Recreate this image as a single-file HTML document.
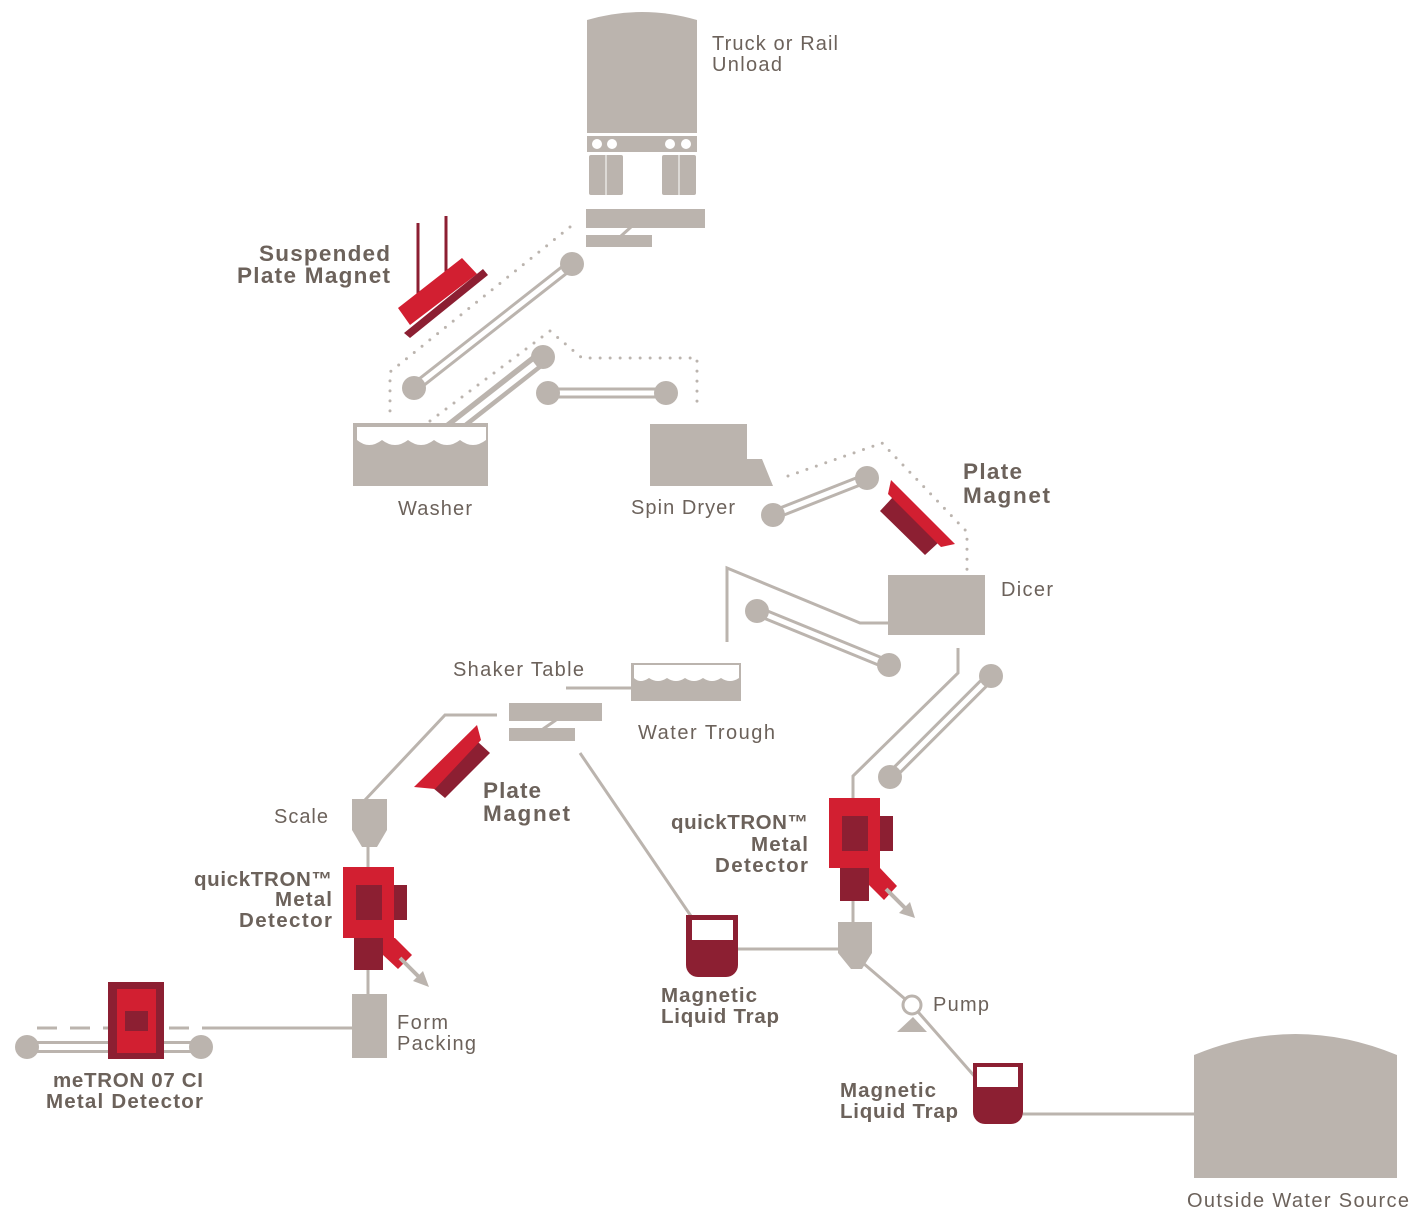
<!DOCTYPE html>
<html><head><meta charset="utf-8"><style>
html,body{margin:0;padding:0;background:#fff;}
svg{display:block;}
text{font-family:"Liberation Sans",sans-serif;fill:#6c625b;font-size:20px;}
.b{font-weight:bold;font-size:20.5px;}
.bb{font-weight:bold;font-size:22.5px;}
</style></head><body>
<svg width="1420" height="1214" viewBox="0 0 1420 1214" xmlns="http://www.w3.org/2000/svg">
<g fill="#bbb4ae">
  <!-- Truck -->
  <path d="M587,20 Q642,4 697,20 L697,133 L587,133 Z"/>
  <rect x="587" y="136" width="110" height="16"/>
  <rect x="589" y="155" width="34" height="40" rx="2"/>
  <rect x="662" y="155" width="34" height="40" rx="2"/>
  <!-- Feeder -->
  <rect x="586" y="209" width="119" height="19"/>
  <rect x="586" y="235" width="66" height="12"/>
</g>
<g fill="#fff">
  <circle cx="597" cy="144" r="5"/><circle cx="612" cy="144" r="5"/>
  <circle cx="670" cy="144" r="5"/><circle cx="686" cy="144" r="5"/>
  <rect x="605.5" y="155" width="1" height="40"/>
  <rect x="678.5" y="155" width="1" height="40"/>
</g>
<line x1="631" y1="227" x2="621" y2="236" stroke="#bbb4ae" stroke-width="3"/>

<!-- Dotted lines -->
<g fill="none" stroke="#bbb4ae" stroke-width="3" stroke-linecap="round" stroke-dasharray="0 10">
  <polyline points="570,227 390,372 390,418"/>
  <polyline points="430,421 550,331 582,358 697,358 697,410"/>
  <polyline points="788,476 882,443 967,532 967,572"/>
</g>

<!-- Connector lines -->
<g fill="none" stroke="#bbb4ae" stroke-width="3">
  <polyline points="888,623 860,623 727,568 727,642"/>
  <polyline points="958,648 958,673 853,776 853,798"/>
  <line x1="566" y1="688" x2="631" y2="688"/>
  <polyline points="497,715 445,715 365,800"/>
  <line x1="580" y1="753" x2="695" y2="922"/>
  <line x1="368" y1="845" x2="368" y2="867"/>
  <line x1="368" y1="968" x2="368" y2="994"/>
  <line x1="853" y1="899" x2="853" y2="922"/>
  <line x1="738" y1="949" x2="838" y2="949"/>
  <line x1="212" y1="1028" x2="352" y2="1028"/>
  <line x1="37" y1="1028" x2="212" y2="1028" stroke-dasharray="20 13"/>
  <line x1="863" y1="963" x2="912" y2="1005"/>
  <line x1="912" y1="1005" x2="976" y2="1078"/>
  <line x1="1023" y1="1114" x2="1195" y2="1114"/>
</g>

<!-- Conveyors -->
<g>
  <g stroke="#bbb4ae" stroke-width="11">
    <line x1="572" y1="264" x2="414" y2="388"/>
    <line x1="548" y1="393" x2="666" y2="393"/>
    <line x1="773" y1="515" x2="867" y2="478"/>
    <line x1="757" y1="611" x2="889" y2="665"/>
    <line x1="991" y1="676" x2="890" y2="777"/>
    <line x1="27" y1="1047" x2="201" y2="1047" stroke-width="12"/>
  </g>
  <g stroke="#fff" stroke-width="5">
    <line x1="572" y1="264" x2="414" y2="388"/>
    <line x1="548" y1="393" x2="666" y2="393"/>
    <line x1="773" y1="515" x2="867" y2="478"/>
    <line x1="757" y1="611" x2="889" y2="665"/>
    <line x1="991" y1="676" x2="890" y2="777"/>
    <line x1="27" y1="1047" x2="201" y2="1047" stroke-width="6"/>
  </g>
  <g fill="#bbb4ae">
    <circle cx="572" cy="264" r="12"/><circle cx="414" cy="388" r="12"/>
    <circle cx="548" cy="393" r="12"/><circle cx="666" cy="393" r="12"/>
    <circle cx="773" cy="515" r="12"/><circle cx="867" cy="478" r="12"/>
    <circle cx="757" cy="611" r="12"/><circle cx="889" cy="665" r="12"/>
    <circle cx="991" cy="676" r="12"/><circle cx="890" cy="777" r="12"/>
    <circle cx="27" cy="1047" r="12"/><circle cx="201" cy="1047" r="12"/>
  </g>
  <!-- thick washer conveyor -->
  <line x1="543" y1="357" x2="450" y2="430" stroke="#bbb4ae" stroke-width="16"/>
  <circle cx="543" cy="357" r="12" fill="#bbb4ae"/>
  <line x1="535" y1="364" x2="448" y2="432" stroke="#fff" stroke-width="6"/>
</g>

<!-- Washer -->
<rect x="353" y="423" width="135" height="63" fill="#bbb4ae"/>
<path d="M357,427 L486,427 L486,440 Q473,450 460,440 Q447,450 434,440 Q421,450 408,440 Q395,450 382,440 Q369,450 357,440 Z" fill="#fff"/>

<!-- Spin dryer -->
<polygon points="650,424 747,424 747,459 762,459 773,486 650,486" fill="#bbb4ae"/>

<!-- Dicer -->
<rect x="888" y="575" width="97" height="60" fill="#bbb4ae"/>

<!-- Water trough -->
<rect x="631" y="663" width="110" height="38" fill="#bbb4ae"/>
<path d="M634,665 L739,665 L739,678 Q730,684 721,678 Q712,684 703,678 Q694,684 685,678 Q676,684 667,678 Q658,684 649,678 Q640,684 634,678 Z" fill="#fff"/>

<!-- Shaker table -->
<g fill="#bbb4ae">
  <rect x="509" y="703" width="93" height="18"/>
  <rect x="509" y="728" width="66" height="13"/>
</g>
<line x1="556" y1="720" x2="543" y2="729" stroke="#bbb4ae" stroke-width="3"/>

<!-- Scale hopper -->
<polygon points="352,799 387,799 387,830 377,847 362,847 352,830" fill="#bbb4ae"/>
<!-- Form packing -->
<rect x="352" y="994" width="35" height="64" fill="#bbb4ae"/>
<!-- Right hopper -->
<polygon points="838,922 872,922 872,953 862,969 851,969 838,953" fill="#bbb4ae"/>

<!-- Pump -->
<polygon points="897,1032 913,1017 927,1032" fill="#bbb4ae"/>
<circle cx="912" cy="1005" r="9" fill="#fff" stroke="#bbb4ae" stroke-width="3"/>

<!-- Water source -->
<path d="M1194,1055 Q1295.5,1013 1397,1055 L1397,1178 L1194,1178 Z" fill="#bbb4ae"/>

<!-- Magnetic traps -->
<path d="M686,915 H738 V965 A12,12 0 0 1 726,977 H698 A12,12 0 0 1 686,965 Z" fill="#8c1f32"/>
<rect x="692" y="920" width="41" height="20" fill="#fff"/>
<path d="M973,1063 H1023 V1112 A12,12 0 0 1 1011,1124 H985 A12,12 0 0 1 973,1112 Z" fill="#8c1f32"/>
<rect x="977" y="1067" width="41" height="20" fill="#fff"/>

<!-- Suspended plate magnet -->
<g>
  <line x1="418" y1="223" x2="418" y2="294" stroke="#8c1f32" stroke-width="3"/>
  <line x1="446" y1="216" x2="446" y2="274" stroke="#8c1f32" stroke-width="3"/>
  <polygon points="398,308 462,258 477,274 410,325" fill="#d21f31"/>
  <polygon points="404,333 483,269 488,275 410,338" fill="#8c1f32"/>
</g>

<!-- Plate magnet upper right -->
<polygon points="880,511 893,497 938,543 925,555" fill="#8c1f32"/>
<polygon points="891,480 955,544 941,547 888,494" fill="#d21f31"/>

<!-- Plate magnet middle -->
<polygon points="478,742 490,753 445,798 433,788" fill="#8c1f32"/>
<polygon points="477,725 481,740 435,789 414,787" fill="#d21f31"/>

<!-- quickTRON left -->
<g>
  <rect x="343" y="867" width="51" height="71" fill="#d21f31"/>
  <rect x="356" y="885" width="26" height="35" fill="#8c1f32"/>
  <rect x="394" y="885" width="13" height="35" fill="#8c1f32"/>
  <rect x="354" y="938" width="29" height="32" fill="#8c1f32"/>
  <polygon points="383,938 395,938 412,955 398,969 383,955" fill="#d21f31"/>
  <line x1="400" y1="958" x2="421" y2="979" stroke="#bbb4ae" stroke-width="4"/>
  <polygon points="429,987 413,981 423,971" fill="#bbb4ae"/>
</g>

<!-- quickTRON right -->
<g>
  <rect x="829" y="798" width="51" height="70" fill="#d21f31"/>
  <rect x="842" y="816" width="26" height="35" fill="#8c1f32"/>
  <rect x="880" y="816" width="13" height="35" fill="#8c1f32"/>
  <rect x="840" y="868" width="29" height="33" fill="#8c1f32"/>
  <polygon points="869,868 880,868 897,886 884,900 869,885" fill="#d21f31"/>
  <line x1="886" y1="889" x2="907" y2="910" stroke="#bbb4ae" stroke-width="4"/>
  <polygon points="915,918 899,913 910,902" fill="#bbb4ae"/>
</g>

<!-- meTRON -->
<rect x="108" y="982" width="56" height="77" fill="#8c1f32"/>
<rect x="117" y="989" width="39" height="64" fill="#d21f31"/>
<rect x="125" y="1011" width="23" height="20" fill="#8c1f32"/>

<!-- Labels -->
<text x="712" y="50" textLength="126" lengthAdjust="spacing">Truck or Rail</text>
<text x="712" y="71" textLength="70" lengthAdjust="spacing">Unload</text>
<text x="398" y="515" textLength="74" lengthAdjust="spacing">Washer</text>
<text x="631" y="514" textLength="104" lengthAdjust="spacing">Spin Dryer</text>
<text class="bb" x="390" y="261" text-anchor="end" textLength="131" lengthAdjust="spacing">Suspended</text>
<text class="bb" x="390" y="283" text-anchor="end" textLength="153" lengthAdjust="spacing">Plate Magnet</text>
<text class="bb" x="963" y="479" textLength="59" lengthAdjust="spacing">Plate</text>
<text class="bb" x="963" y="503" textLength="87" lengthAdjust="spacing">Magnet</text>
<text x="1001" y="596" textLength="52" lengthAdjust="spacing">Dicer</text>
<text x="453" y="676" textLength="131" lengthAdjust="spacing">Shaker Table</text>
<text x="638" y="739" textLength="137" lengthAdjust="spacing">Water Trough</text>
<text class="bb" x="483" y="798" textLength="58" lengthAdjust="spacing">Plate</text>
<text class="bb" x="483" y="821" textLength="87" lengthAdjust="spacing">Magnet</text>
<text x="274" y="823" textLength="54" lengthAdjust="spacing">Scale</text>
<text class="b" x="332" y="886" text-anchor="end" textLength="138" lengthAdjust="spacing">quickTRON™</text>
<text class="b" x="332" y="906" text-anchor="end" textLength="57" lengthAdjust="spacing">Metal</text>
<text class="b" x="332" y="927" text-anchor="end" textLength="93" lengthAdjust="spacing">Detector</text>
<text x="397" y="1029" textLength="51" lengthAdjust="spacing">Form</text>
<text x="397" y="1050" textLength="79" lengthAdjust="spacing">Packing</text>
<text class="b" x="53" y="1087" textLength="150" lengthAdjust="spacing">meTRON 07 CI</text>
<text class="b" x="46" y="1108" textLength="157" lengthAdjust="spacing">Metal Detector</text>
<text class="b" x="808" y="829" text-anchor="end" textLength="137" lengthAdjust="spacing">quickTRON™</text>
<text class="b" x="808" y="851" text-anchor="end" textLength="57" lengthAdjust="spacing">Metal</text>
<text class="b" x="808" y="872" text-anchor="end" textLength="93" lengthAdjust="spacing">Detector</text>
<text class="b" x="661" y="1002" textLength="96" lengthAdjust="spacing">Magnetic</text>
<text class="b" x="661" y="1023" textLength="118" lengthAdjust="spacing">Liquid Trap</text>
<text x="933" y="1011" textLength="56" lengthAdjust="spacing">Pump</text>
<text class="b" x="840" y="1097" textLength="96" lengthAdjust="spacing">Magnetic</text>
<text class="b" x="840" y="1118" textLength="118" lengthAdjust="spacing">Liquid Trap</text>
<text x="1187" y="1207" textLength="222" lengthAdjust="spacing">Outside Water Source</text>
</svg>
</body></html>
